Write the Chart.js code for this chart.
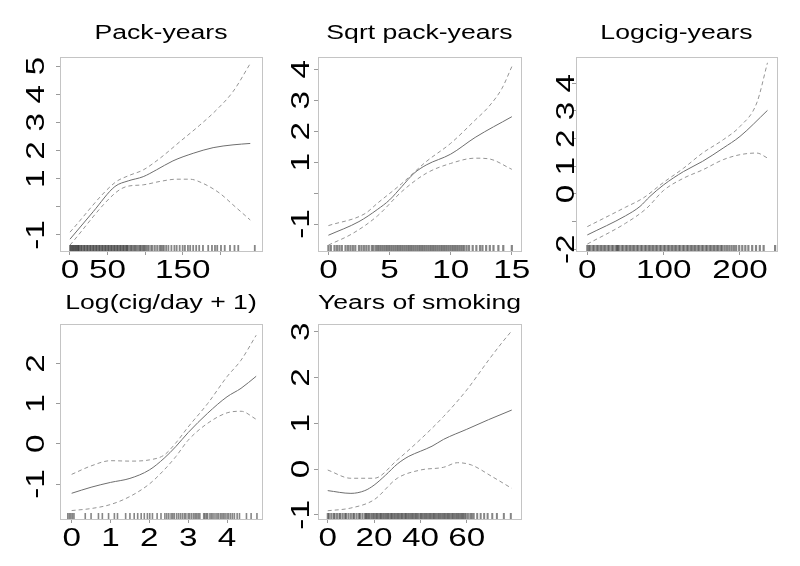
<!DOCTYPE html>
<html>
<head>
<meta charset="utf-8">
<script src="https://cdn.jsdelivr.net/npm/chart.js@4.4.1/dist/chart.umd.min.js"></script>
<style>
    html, body { margin: 0; padding: 0; background: #fff; }
    #page { position: relative; width: 800px; height: 566px; overflow: hidden; }
    .cell { position: absolute; }
</style>
</head>
<body>
<div id="page">
    <div class="cell" style="left:0px;top:0px;width:266px;height:283px"><canvas id="c1"></canvas></div>
    <div class="cell" style="left:266px;top:0px;width:267px;height:283px"><canvas id="c2"></canvas></div>
    <div class="cell" style="left:533px;top:0px;width:267px;height:283px"><canvas id="c3"></canvas></div>
    <div class="cell" style="left:0px;top:283px;width:266px;height:283px"><canvas id="c4"></canvas></div>
    <div class="cell" style="left:266px;top:283px;width:267px;height:283px"><canvas id="c5"></canvas></div>
</div>
<script>
// Pack-years
const packFitX = [0, 31, 59.8, 77.5, 97.5, 115, 137, 164, 190.5, 217, 240];
const packFitY = [-1.15, -0.17, 0.72, 0.92, 1.07, 1.31, 1.63, 1.9, 2.1, 2.2, 2.25];
const packUpX = [0, 59.8, 77.5, 97.5, 119.6, 146.2, 172.8, 195, 217, 240];
const packUpY = [-0.9, 0.86, 1.1, 1.31, 1.72, 2.31, 2.9, 3.44, 4.09, 5.09];
const packLoX = [0, 59.8, 75.3, 97.5, 119.6, 141.8, 159.5, 177.2, 199.4, 217, 240];
const packLoY = [-1.36, 0.48, 0.72, 0.78, 0.9, 0.98, 0.98, 0.83, 0.48, 0.07, -0.47];
const packRug = [0, 1, 2, 3, 4, 5, 6, 7, 8, 9, 10, 11, 11.5, 12, 14, 15, 16, 18, 19, 20, 22, 23, 24, 26, 27, 28,
    30, 31, 32, 34, 35, 36, 38, 39, 40, 42, 43, 44, 46, 47, 48, 50, 51, 52, 54, 55, 56, 58, 59, 60, 62, 63, 64,
    66, 67, 68, 70, 71, 72, 74, 75, 76, 77, 79, 81, 82, 84, 86, 87, 89, 91, 93, 94, 96, 98, 99, 101, 103, 105,
    108, 110, 113, 116, 119, 121, 123, 125, 128, 131, 135, 139, 142, 146, 150, 153, 157, 160, 164, 168, 172,
    177, 184, 189, 193, 196, 201, 206, 213, 219, 224, 246];
const packXTicks = [0, 50, 100, 150, 200];
const packXLabels = ['0', '50', '', '150', ''];
const packYTicks = [-1, 0, 1, 2, 3, 4, 5];
const packYLabels = ['-1', '', '1', '2', '3', '4', '5'];

// Sqrt pack-years
const sqrtFitX = [0, 2.5, 4, 5, 6, 7, 8, 10, 12, 15];
const sqrtFitY = [-1.36, -0.92, -0.53, -0.22, 0.21, 0.64, 0.91, 1.26, 1.8, 2.47];
const sqrtUpX = [0, 3, 4, 6, 8, 10, 12, 13.1, 14.2, 15];
const sqrtUpY = [-1.05, -0.66, -0.33, 0.31, 1.02, 1.61, 2.36, 2.79, 3.39, 4.09];
const sqrtLoX = [0, 2, 4, 6, 8, 10, 12, 13.1, 15];
const sqrtLoY = [-1.68, -1.3, -0.74, 0.05, 0.64, 0.96, 1.13, 1.11, 0.77];
const sqrtRug = [0, 0.2, 0.5, 0.7, 0.9, 1.1, 1.4, 1.6, 1.8, 2.0, 2.2, 2.5, 2.7, 2.9, 3.1, 3.3, 3.55, 3.7, 3.9,
    4.05, 4.2, 4.35, 4.5, 4.65, 4.8, 4.95, 5.1, 5.25, 5.4, 5.55, 5.7, 5.85, 6, 6.15, 6.3, 6.45, 6.6, 6.75, 6.9,
    7.05, 7.2, 7.35, 7.5, 7.65, 7.8, 7.95, 8.1, 8.25, 8.4, 8.55, 8.7, 8.85, 9, 9.15, 9.3, 9.45, 9.6, 9.75, 9.9,
    10.05, 10.2, 10.35, 10.5, 10.65, 10.8, 10.95, 11.1, 11.3, 11.5, 11.8, 12.1, 12.4, 12.6, 12.9, 13.2, 13.5,
    13.9, 14.3, 15];
const sqrtXTicks = [0, 5, 10, 15];
const sqrtXLabels = ['0', '5', '10', '15'];
const sqrtYTicks = [-1, 0, 1, 2, 3, 4];
const sqrtYLabels = ['-1', '', '1', '2', '3', '4'];

// Logcig-years
const logcigFitX = [0, 50, 69, 82, 100, 126, 151, 178, 200, 236];
const logcigFitY = [-1.48, -0.79, -0.45, -0.09, 0.33, 0.81, 1.18, 1.66, 2.08, 3.02];
const logcigUpX = [0, 50, 73, 100, 126, 151, 178, 200, 222, 236];
const logcigUpY = [-1.18, -0.48, -0.15, 0.42, 0.93, 1.48, 1.96, 2.44, 3.29, 4.74];
const logcigLoX = [0, 50, 78, 100, 126, 151, 178, 200, 222, 236];
const logcigLoY = [-1.81, -1.06, -0.51, 0.13, 0.57, 0.87, 1.24, 1.42, 1.48, 1.3];
const logcigRug = [0, 2, 4, 7, 9, 12, 14, 17, 19, 22, 24, 27, 29, 32, 34, 37, 39, 40, 42, 45, 47, 50, 52, 55,
    57, 60, 62, 65, 67, 70, 72, 75, 77, 80, 82, 85, 87, 90, 92, 95, 97, 100, 102, 105, 107, 110, 112, 115, 117,
    120, 122, 125, 127, 130, 132, 135, 137, 140, 142, 145, 147, 150, 152, 155, 157, 160, 162, 165, 167, 170,
    172, 175, 177, 180, 183, 186, 189, 192, 195, 199, 203, 207, 211, 216, 221, 226, 231, 246];
const logcigXTicks = [0, 100, 200];
const logcigXLabels = ['0', '100', '200'];
const logcigYTicks = [-2, -1, 0, 1, 2, 3, 4];
const logcigYLabels = ['-2', '', '0', '1', '2', '3', '4'];

// Log(cig/day + 1)
const cigdayX = [0, 0.5, 1, 1.5, 2, 2.38, 2.68, 3, 3.5, 4, 4.36, 4.75];
const cigdayFitY = [-1.23, -1.08, -0.96, -0.86, -0.65, -0.36, -0.07, 0.28, 0.76, 1.17, 1.38, 1.68];
const cigdayUpY = [-0.76, -0.55, -0.42, -0.43, -0.4, -0.28, 0.02, 0.42, 1.0, 1.67, 2.08, 2.7];
const cigdayLoY = [-1.66, -1.61, -1.51, -1.31, -1.0, -0.65, -0.32, 0.09, 0.51, 0.77, 0.81, 0.61];
const cigdayRug = [-0.1, -0.06, -0.02, 0.02, 0.06, 0.35, 0.5, 0.69, 0.79, 0.95, 1.1, 1.18, 1.39, 1.5, 1.61, 1.7,
    1.79, 1.87, 1.95, 2.01, 2.08, 2.2, 2.3, 2.4, 2.45, 2.5, 2.56, 2.6, 2.64, 2.7, 2.75, 2.8, 2.85, 2.9, 2.94,
    3.0, 3.04, 3.09, 3.14, 3.18, 3.22, 3.26, 3.3, 3.4, 3.43, 3.47, 3.5, 3.56, 3.6, 3.64, 3.69, 3.74, 3.78, 3.83,
    3.87, 3.91, 3.95, 4.0, 4.04, 4.09, 4.14, 4.19, 4.26, 4.32, 4.5, 4.62, 4.77];
const cigdayXTicks = [0, 1, 2, 3, 4];
const cigdayXLabels = ['0', '1', '2', '3', '4'];
const cigdayYTicks = [-1, 0, 1, 2];
const cigdayYLabels = ['-1', '0', '1', '2'];

// Years of smoking
const yearsFitX = [0, 10, 16, 20, 25, 30, 35, 40, 45, 50, 60, 69.4, 79.4];
const yearsFitY = [-0.47, -0.53, -0.47, -0.35, -0.13, 0.11, 0.28, 0.39, 0.5, 0.65, 0.87, 1.08, 1.29];
const yearsUpX = [0, 10, 20, 30, 40, 50, 60, 69.4, 75, 79.4];
const yearsUpY = [-0.02, -0.2, -0.2, 0.2, 0.65, 1.15, 1.73, 2.38, 2.75, 3.02];
const yearsLoX = [0, 10, 20, 30, 40, 50, 56, 62, 70.8, 79.4];
const yearsLoY = [-0.91, -0.85, -0.67, -0.2, -0.02, 0.04, 0.14, 0.09, -0.16, -0.42];
const yearsRug = [0, 0.5, 1.5, 2.5, 3, 4, 5, 5.5, 6.5, 7.5, 8, 9, 10, 11, 11.5, 12.5, 13.5, 14, 15, 16, 16.5,
    17, 17.6, 18, 18.8, 19.4, 20, 20.7, 21.2, 21.8, 22.5, 23, 23.6, 24.2, 24.9, 25.4, 26, 26.6, 27.3, 27.8, 28.4,
    29, 29.7, 30.2, 30.8, 31.5, 32, 32.6, 33.3, 33.8, 34.4, 35, 35.7, 36.2, 36.8, 37.5, 38, 38.6, 39.2, 40,
    40.4, 41, 41.7, 42.2, 42.8, 43.5, 44, 44.6, 45.3, 45.8, 46.4, 47, 47.7, 48.2, 48.8, 49.5, 50, 50.6, 51.3,
    51.8, 52.4, 53, 53.7, 54.2, 54.8, 55.5, 56, 56.6, 57.3, 57.8, 58.4, 59, 59.6, 60.5, 61.5, 62.2, 63, 64.5,
    66, 67.5, 69, 71, 73, 76, 79];
const yearsXTicks = [0, 20, 40, 60];
const yearsXLabels = ['0', '20', '40', '60'];
const yearsYTicks = [-1, 0, 1, 2, 3];
const yearsYLabels = ['-1', '0', '1', '2', '3'];

// Teks R-style agak melebar
const STRETCH = 1.33;
const FONT = '"Liberation Sans", Arial, Helvetica, sans-serif';

function pairs(xs, ys) {
    return xs.map((x, i) => ({ x: x, y: ys[i] }));
}

function drawWide(ctx, text, x, y, angle) {
    if (!text) return;
    ctx.save();
    ctx.translate(x, y);
    ctx.rotate(angle);
    ctx.scale(STRETCH, 1);
    ctx.fillText(text, 0, 0);
    ctx.restore();
}

// Kotak plot + rug
const framePlugin = {
    id: 'frame',
    beforeDatasetsDraw(chart) {
        const opt = chart.options.plugins.frame;
        const ctx = chart.ctx;
        const a = chart.chartArea;
        const xs = chart.scales.x;
        ctx.save();
        ctx.strokeStyle = 'rgba(60,60,60,0.62)';
        ctx.lineWidth = opt.rugWidth;
        opt.rug.forEach(v => {
            const px = xs.getPixelForValue(v);
            ctx.beginPath();
            ctx.moveTo(px, a.bottom);
            ctx.lineTo(px, a.bottom - 6);
            ctx.stroke();
        });
        ctx.strokeStyle = '#c4c4c4';
        ctx.lineWidth = 1;
        ctx.strokeRect(Math.round(a.left) + 0.5, Math.round(a.top) + 0.5,
            Math.round(a.right - a.left), Math.round(a.bottom - a.top));
        ctx.restore();
    }
};

// Judul dan label sumbu
const textPlugin = {
    id: 'rText',
    afterDraw(chart) {
        const p = chart.options.plugins.rText;
        const ctx = chart.ctx;
        const a = chart.chartArea;
        ctx.save();
        ctx.fillStyle = '#000';
        ctx.textAlign = 'center';
        ctx.textBaseline = 'alphabetic';
        ctx.font = '20px ' + FONT;
        drawWide(ctx, p.title, (a.left + a.right) / 2, p.titleY, 0);
        ctx.font = '25px ' + FONT;
        p.xTicks.forEach((v, i) => {
            drawWide(ctx, p.xLabels[i], chart.scales.x.getPixelForValue(v), a.bottom + 27, 0);
        });
        p.yTicks.forEach((v, i) => {
            drawWide(ctx, p.yLabels[i], p.labelX, chart.scales.y.getPixelForValue(v), -Math.PI / 2);
        });
        ctx.restore();
    }
};

function makePanel(cfg) {
    const line = (data, dashed) => ({
        data: data,
        showLine: true,
        pointRadius: 0,
        borderWidth: 1,
        borderColor: dashed ? '#959595' : '#6e6e6e',
        borderDash: dashed ? [4, 3] : [],
        cubicInterpolationMode: 'monotone',
        fill: false
    });

    const axis = (min, max, ticks, fit) => ({
        type: 'linear',
        min: min,
        max: max,
        afterBuildTicks: s => { s.ticks = ticks.map(v => ({ value: v })); },
        afterFit: fit,
        ticks: { color: 'rgba(0,0,0,0)', font: { size: 1 }, autoSkip: false, padding: 0 },
        grid: { drawOnChartArea: false, drawTicks: true, tickLength: 4, color: '#9a9a9a' },
        border: { display: false }
    });

    return new Chart(document.getElementById(cfg.id), {
        type: 'scatter',
        data: {
            datasets: [
                line(cfg.fit, false),
                line(cfg.upper, true),
                line(cfg.lower, true)
            ]
        },
        options: {
            responsive: true,
            maintainAspectRatio: false,
            animation: false,
            layout: { padding: { left: 0, right: cfg.padRight, top: cfg.top, bottom: 0 } },
            plugins: {
                legend: { display: false },
                tooltip: { enabled: false },
                frame: { rug: cfg.rug, rugWidth: cfg.rugWidth },
                rText: {
                    title: cfg.title,
                    titleY: cfg.titleY,
                    labelX: cfg.labelX,
                    xTicks: cfg.xTicks,
                    xLabels: cfg.xLabels,
                    yTicks: cfg.yTicks,
                    yLabels: cfg.yLabels
                }
            },
            scales: {
                x: axis(cfg.xMin, cfg.xMax, cfg.xTicks, s => { s.height = cfg.axisH; }),
                y: axis(cfg.yMin, cfg.yMax, cfg.yTicks, s => { s.width = cfg.left; })
            }
        },
        plugins: [framePlugin, textPlugin]
    });
}

document.addEventListener('DOMContentLoaded', function () {
    makePanel({
        id: 'c1', title: 'Pack-years', titleY: 39, labelX: 44,
        left: 60, padRight: 4, top: 57, axisH: 32,
        xMin: -13.3, xMax: 255.6, yMin: -1.57, yMax: 5.32,
        fit: pairs(packFitX, packFitY), upper: pairs(packUpX, packUpY), lower: pairs(packLoX, packLoY),
        rug: packRug, rugWidth: 1.8,
        xTicks: packXTicks, xLabels: packXLabels, yTicks: packYTicks, yLabels: packYLabels
    });
    makePanel({
        id: 'c2', title: 'Sqrt pack-years', titleY: 39, labelX: 43,
        left: 52, padRight: 12, top: 57, axisH: 32,
        xMin: -0.85, xMax: 15.75, yMin: -1.87, yMax: 4.40,
        fit: pairs(sqrtFitX, sqrtFitY), upper: pairs(sqrtUpX, sqrtUpY), lower: pairs(sqrtLoX, sqrtLoY),
        rug: sqrtRug, rugWidth: 2.2,
        xTicks: sqrtXTicks, xLabels: sqrtXLabels, yTicks: sqrtYTicks, yLabels: sqrtYLabels
    });
    makePanel({
        id: 'c3', title: 'Logcig-years', titleY: 39, labelX: 41,
        left: 43, padRight: 23, top: 57, axisH: 32,
        xMin: -14.8, xMax: 248.5, yMin: -2.06, yMax: 4.95,
        fit: pairs(logcigFitX, logcigFitY), upper: pairs(logcigUpX, logcigUpY), lower: pairs(logcigLoX, logcigLoY),
        rug: logcigRug, rugWidth: 2.2,
        xTicks: logcigXTicks, xLabels: logcigXLabels, yTicks: logcigYTicks, yLabels: logcigYLabels
    });
    makePanel({
        id: 'c4', title: 'Log(cig/day + 1)', titleY: 26, labelX: 44,
        left: 60, padRight: 4, top: 41, axisH: 47,
        xMin: -0.3, xMax: 4.9, yMin: -1.87, yMax: 2.98,
        fit: pairs(cigdayX, cigdayFitY), upper: pairs(cigdayX, cigdayUpY), lower: pairs(cigdayX, cigdayLoY),
        rug: cigdayRug, rugWidth: 1.6,
        xTicks: cigdayXTicks, xLabels: cigdayXLabels, yTicks: cigdayYTicks, yLabels: cigdayYLabels
    });
    makePanel({
        id: 'c5', title: 'Years of smoking', titleY: 26, labelX: 43,
        left: 52, padRight: 12, top: 41, axisH: 47,
        xMin: -4.2, xMax: 83.4, yMin: -1.09, yMax: 3.17,
        fit: pairs(yearsFitX, yearsFitY), upper: pairs(yearsUpX, yearsUpY), lower: pairs(yearsLoX, yearsLoY),
        rug: yearsRug, rugWidth: 2,
        xTicks: yearsXTicks, xLabels: yearsXLabels, yTicks: yearsYTicks, yLabels: yearsYLabels
    });
});
</script>
</body>
</html>
